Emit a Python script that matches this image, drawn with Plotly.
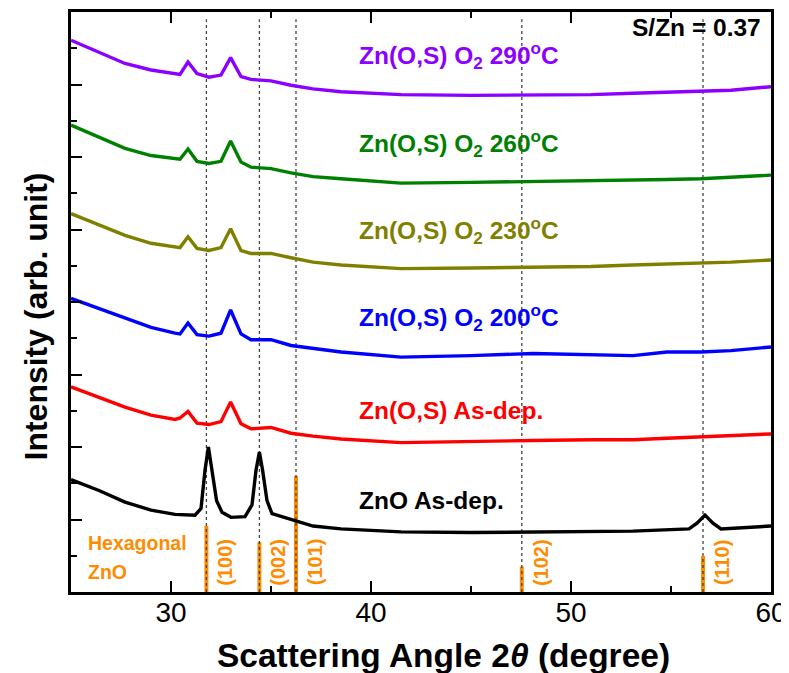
import plotly.graph_objects as go

# ---------------- data ----------------
angle_zos = [25.0, 26.4, 27.7, 29.0, 30.2, 30.45, 30.85, 31.3, 31.9, 32.5, 32.98, 33.5,
             34.0, 35.0, 36.0, 37.1, 38.5, 41.5, 45.0, 48.1, 51.0, 53.1, 54.8, 56.5, 58.0, 60.0]

int_290 = [7.61, 7.45, 7.29, 7.20, 7.15, 7.14, 7.31, 7.15, 7.10, 7.13, 7.37, 7.11,
           7.07, 7.05, 6.99, 6.94, 6.90, 6.86, 6.85, 6.85, 6.86, 6.88, 6.89, 6.90, 6.92, 6.97]
int_260 = [6.44, 6.27, 6.12, 6.02, 5.98, 5.97, 6.11, 5.94, 5.91, 5.94, 6.22, 5.93,
           5.86, 5.84, 5.78, 5.73, 5.70, 5.64, 5.65, 5.66, 5.67, 5.68, 5.69, 5.70, 5.72, 5.75]
int_230 = [5.22, 5.06, 4.92, 4.81, 4.76, 4.75, 4.90, 4.74, 4.71, 4.75, 5.01, 4.71,
           4.67, 4.67, 4.61, 4.55, 4.51, 4.46, 4.47, 4.48, 4.49, 4.51, 4.52, 4.54, 4.55, 4.58]
int_200 = [4.05, 3.91, 3.77, 3.65, 3.57, 3.56, 3.71, 3.55, 3.53, 3.57, 3.89, 3.56,
           3.48, 3.48, 3.40, 3.36, 3.31, 3.24, 3.26, 3.29, 3.27, 3.26, 3.31, 3.31, 3.33, 3.38]
int_asdep = [2.83, 2.69, 2.55, 2.44, 2.38, 2.40, 2.49, 2.33, 2.31, 2.35, 2.62, 2.32,
             2.25, 2.27, 2.19, 2.15, 2.11, 2.06, 2.08, 2.09, 2.10, 2.10, 2.12, 2.14, 2.15, 2.18]

angle_zno = [25.0, 26.4, 27.7, 29.0, 30.2, 31.2, 31.5, 31.7, 31.87, 32.05, 32.28, 32.55, 33.0,
             33.7, 34.05, 34.25, 34.42, 34.58, 34.8, 35.05, 36.0, 37.1, 38.5, 41.5, 45.0,
             48.1, 51.0, 53.1, 55.9, 56.3, 56.7, 57.1, 57.5, 60.0]
int_zno = [1.55, 1.40, 1.24, 1.13, 1.07, 1.06, 1.15, 1.68, 2.00, 1.68, 1.26, 1.10, 1.03,
           1.04, 1.20, 1.68, 1.93, 1.68, 1.26, 1.08, 1.00, 0.91, 0.87, 0.83, 0.82,
           0.83, 0.84, 0.84, 0.87, 0.95, 1.06, 0.95, 0.87, 0.91]

series_names = ["ZnO As-dep.", "Zn(O,S) As-dep.", "Zn(O,S) O<sub>2</sub> 200<sup>o</sup>C",
                "Zn(O,S) O<sub>2</sub> 230<sup>o</sup>C", "Zn(O,S) O<sub>2</sub> 260<sup>o</sup>C",
                "Zn(O,S) O<sub>2</sub> 290<sup>o</sup>C"]
series_colors = ["#000000", "#FF0000", "#0000FF", "#808000", "#008000", "#8C00FF"]
label_y = [1.26, 2.51, 3.79, 4.99, 6.18, 7.40]

# reference ZnO peaks (hexagonal)
ref_angles = [31.77, 34.42, 36.25, 47.54, 56.60]
ref_rel_int = [57, 43, 100, 22, 31]
ref_hkl = ["(100)", "(002)", "(101)", "(102)", "(110)"]
ref_scale = 1.6 / 100

x_ticks = [30, 40, 50, 60]

# ---------------- figure ----------------
FONT = "Arial, Liberation Sans, sans-serif"
fig = go.Figure()

# dotted guide lines
gx, gy = [], []
for a in ref_angles:
    gx += [a, a, None]
    gy += [0, 7.9, None]

# orange reference bars
bx, by = [], []
for a, r in zip(ref_angles, ref_rel_int):
    bx += [a, a, None]
    by += [0, r * ref_scale, None]
fig.add_trace(go.Scatter(x=bx, y=by, mode="lines", line=dict(color="#FF8C00", width=4),
                         hoverinfo="skip", showlegend=False))
fig.add_trace(go.Scatter(x=gx, y=gy, mode="lines", line=dict(color="#444444", width=1.3, dash="dot"),
                         hoverinfo="skip", showlegend=False))

all_y = [int_zno, int_asdep, int_200, int_230, int_260, int_290]
all_x = [angle_zno] + [angle_zos] * 5
for xs, ys, name, col in zip(all_x, all_y, series_names, series_colors):
    fig.add_trace(go.Scatter(x=xs, y=ys, mode="lines", name=name,
                             line=dict(color=col, width=3.4), showlegend=False))

# series labels
for name, col, yv in zip(series_names, series_colors, label_y):
    fig.add_annotation(x=39.3, y=yv, xref="x", yref="y", text="<b>" + name + "</b>",
                       showarrow=False, xanchor="left", yanchor="middle",
                       font=dict(family=FONT, size=24.5, color=col))

fig.add_annotation(x=59.6, y=7.79, xref="x", yref="y", text="<b>S/Zn = 0.37</b>",
                   showarrow=False, xanchor="right", yanchor="middle",
                   font=dict(family=FONT, size=24.5, color="black"))

# reference labels
for a, h in zip(ref_angles, ref_hkl):
    fig.add_annotation(x=a + 0.95, y=0.41, xref="x", yref="y", text="<b>" + h + "</b>",
                       textangle=-90, showarrow=False, xanchor="center", yanchor="middle",
                       font=dict(family=FONT, size=20, color="#FF8C00"))
fig.add_annotation(x=25.75, y=0.67, xref="x", yref="y", text="<b>Hexagonal</b>",
                   showarrow=False, xanchor="left", yanchor="middle",
                   font=dict(family=FONT, size=19.5, color="#FF8C00"))
fig.add_annotation(x=25.75, y=0.27, xref="x", yref="y", text="<b>ZnO</b>",
                   showarrow=False, xanchor="left", yanchor="middle",
                   font=dict(family=FONT, size=19.5, color="#FF8C00"))

# axis titles
fig.add_annotation(x=43.6, y=0, xref="x", yref="paper", yshift=-63,
                   text="<b>Scattering Angle 2<i>θ</i> (degree)</b>", showarrow=False,
                   xanchor="center", yanchor="middle",
                   font=dict(family=FONT, size=33.5, color="black"))
fig.add_annotation(x=0, y=3.8, xref="paper", yref="y", xshift=-36,
                   text="<b>Intensity (arb. unit)</b>", showarrow=False, textangle=-90,
                   xanchor="center", yanchor="middle",
                   font=dict(family=FONT, size=32, color="black"))

# the page body adds an 8 px offset; margins compensate for it
fig.update_layout(
    width=789, height=673,
    margin=dict(l=63, r=26, t=4, b=89, autoexpand=False),
    paper_bgcolor="white", plot_bgcolor="white",
    font=dict(family=FONT, color="black"),
    xaxis=dict(range=[25, 60], tickmode="array", tickvals=x_ticks, automargin=False,
               ticks="inside", ticklen=11, tickwidth=2, tickcolor="black",
               minor=dict(tickmode="linear", tick0=25, dtick=5, ticks="inside", ticklen=6,
                          tickwidth=2, tickcolor="black"),
               showline=True, linecolor="black", linewidth=2.5, mirror="ticks",
               showgrid=False, zeroline=False, ticklabelstandoff=-6,
               tickfont=dict(family=FONT, size=28, color="black")),
    yaxis=dict(range=[0, 8], tickmode="linear", tick0=0, dtick=1, automargin=False,
               ticks="inside", ticklen=11, tickwidth=2, tickcolor="black",
               minor=dict(tickmode="linear", tick0=0.5, dtick=1, ticks="inside", ticklen=6,
                          tickwidth=2, tickcolor="black"),
               showticklabels=False,
               showline=True, linecolor="black", linewidth=2.5, mirror=True,
               showgrid=False, zeroline=False),
)

fig.write_html("out.html")
